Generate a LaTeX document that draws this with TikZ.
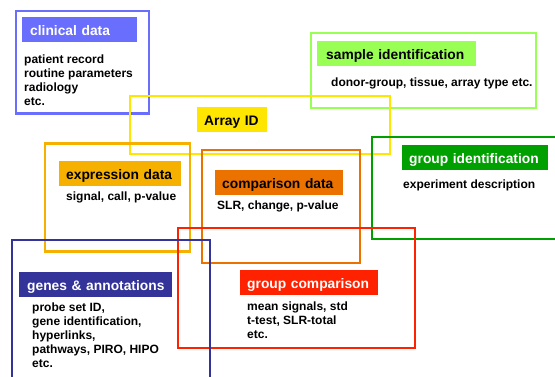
\documentclass[tikz,border=0pt]{standalone}
\usepackage{fontspec}
\setmainfont{Liberation Sans}
\definecolor{clin}{RGB}{106,110,252}
\definecolor{samp}{RGB}{153,255,85}
\definecolor{arr}{RGB}{255,230,0}
\definecolor{expr}{RGB}{245,176,0}
\definecolor{comp}{RGB}{236,114,0}
\definecolor{gid}{RGB}{0,160,0}
\definecolor{gcomp}{RGB}{255,34,0}
\definecolor{genes}{RGB}{51,51,153}
\begin{document}
\begin{tikzpicture}[x=1pt,y=-1pt,
  frame/.style={line width=2.8pt},
  hdr/.style={anchor=west, inner ysep=0pt, minimum height=25pt, align=left,
    text height=12pt, text depth=0pt,
    font=\fontsize{13.8}{16}\selectfont\bfseries},
  body/.style={anchor=north west, inner sep=0pt, align=left,
    font=\fontsize{12}{14.1}\selectfont\bfseries}]
\useasboundingbox (0,0) rectangle (555,376);
% frames
\draw[frame, clin]  (16,11) rectangle (149,113.5);
\draw[frame, samp]  (311,33) rectangle (536,108);
\draw[frame, arr]   (130,96) rectangle (390,154);
\draw[frame, expr]  (45,143.3) rectangle (190,251.3);
\draw[frame, comp]  (202,150) rectangle (360,263);
\draw[frame, gid]   (372,137) rectangle (570,239);
\draw[frame, gcomp] (178,228) rectangle (415,348);
\draw[frame, genes] (12,240) rectangle (210,390);
% headers
\node[hdr, fill=clin, text=white, inner xsep=8pt, text width=99pt] (clinH) at (22,29.5) {\mbox{clinical data}};
\node[hdr, fill=samp, text=black, inner xsep=9pt, text width=141pt] (sampH) at (317,53.5) {\mbox{sample identification}};
\node[hdr, fill=arr, text=black, inner xsep=7pt, text width=56pt] (arrH) at (197,119.5) {\mbox{Array ID}};
\node[hdr, fill=expr, text=black, inner xsep=7pt, text width=108pt] (exprH) at (59,173.5) {\mbox{expression data}};
\node[hdr, fill=comp, text=black, inner xsep=7pt, text width=114pt] (compH) at (215,182) {\mbox{comparison data}};
\node[hdr, fill=gid, text=white, inner xsep=7pt, text width=132pt] (gidH) at (402,157) {\mbox{group identification}};
\node[hdr, fill=gcomp, text=white, inner xsep=7pt, text width=124pt] (gcompH) at (240,282) {\mbox{group comparison}};
\node[hdr, fill=genes, text=white, inner xsep=8pt, text width=137pt] (genesH) at (19,284.5) {\mbox{genes \& annotations}};
% bodies
\node[body] (clinB) at (24,54.5) {patient record\\routine parameters\\radiology\\etc.};
\node[body] (sampB) at (331,78) {donor-group, tissue, array type etc.};
\node[body] (exprB) at (66,191.5) {signal, call, p-value};
\node[body] (compB) at (217,200.5) {SLR, change, p-value};
\node[body] (gidB) at (403,179.5) {experiment description};
\node[body] (gcompB) at (247,301.5) {mean signals, std\\t-test, SLR-total\\etc.};
\node[body] (genesB) at (32,302.5) {probe set ID,\\gene identification,\\hyperlinks,\\pathways, PIRO, HIPO\\etc.};
\end{tikzpicture}
\end{document}
